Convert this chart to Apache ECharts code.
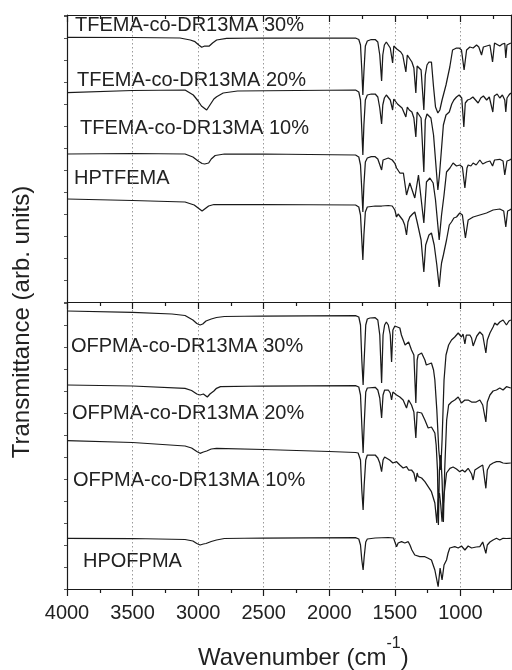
<!DOCTYPE html>
<html><head><meta charset="utf-8">
<script src="https://cdn.jsdelivr.net/npm/echarts@6/dist/echarts.min.js"></script>
<style>html,body{margin:0;padding:0;background:#fff;overflow:hidden}#c{width:540px;height:670px}</style>
</head><body><div id="c"></div>
<script>
// x tick labels (wavenumber, cm-1)
const xTicks = [4000, 3500, 3000, 2500, 2000, 1500, 1000];
const labelsTop = ['TFEMA-co-DR13MA 30%', 'TFEMA-co-DR13MA 20%', 'TFEMA-co-DR13MA 10%', 'HPTFEMA'];
const labelsBottom = ['OFPMA-co-DR13MA 30%', 'OFPMA-co-DR13MA 20%', 'OFPMA-co-DR13MA 10%', 'HPOFPMA'];

// [wavenumber, transmittance (arb. units, offset)]
const T30 = [[4000,264.7],[3500,264.5],[3139,264],[3060,262],[3024,260.3],[2995,257],[2973,254.7],[2950,256],[2935,257],[2915,256],[2890,259],[2859,262],[2783,263.7],[2500,264],[1800,264],[1775,262.5],[1762,257],[1752,232],[1744,207],[1736,230],[1725,256],[1710,261],[1680,262.5],[1650,262.5],[1630,260],[1615,247],[1601,221],[1592,247],[1580,257],[1565,260],[1550,259],[1535,254],[1517,239],[1508,256],[1495,258],[1485,253],[1470,252],[1455,250],[1440,247],[1416,230],[1405,247],[1390,246],[1370,240],[1355,234],[1340,209],[1330,236],[1315,238],[1300,232],[1279,192],[1268,227],[1255,237],[1240,240],[1221,240],[1205,215],[1190,195],[1172,189],[1157,192],[1140,202],[1110,217],[1081,235],[1060,252],[1045,251],[1030,254],[1010,254],[992,252],[972,232],[953,252],[928,255],[903,254],[877,257],[860,255],[839,247],[825,255],[800,256],[775,257],[755,240],[740,259],[725,258.7],[700,256],[680,258],[662,258.7],[654,244],[645,257],[630,258],[616,259]];
const T20 = [[4000,209.3],[3500,211.5],[3100,212],[3037,207],[3000,201],[2975,196],[2960,198],[2935,192],[2915,196],[2880,203],[2859,205.3],[2809,209],[2700,211],[1800,212],[1775,210],[1762,202],[1752,172],[1744,147],[1736,177],[1725,202],[1710,207],[1680,208],[1650,208],[1630,205],[1615,194],[1601,178],[1592,197],[1580,204],[1565,207],[1550,206],[1535,202],[1517,192],[1508,203],[1495,202],[1480,198],[1465,199],[1445,194],[1430,192],[1416,185],[1405,195],[1390,192],[1370,190],[1355,184],[1340,165],[1330,190],[1315,189],[1300,184],[1279,130],[1268,182],[1255,188],[1240,189],[1225,184],[1205,167],[1190,142],[1172,112],[1160,127],[1145,152],[1130,177],[1110,187],[1085,190],[1066,198],[1050,202],[1030,205],[1010,207],[990,204],[974,175],[963,199],[945,202],[925,203],[905,205],[885,202],[865,199],[845,204],[825,206],[800,202],[780,205],[765,203],[753,190],[742,206],[720,208],[700,204],[680,207],[662,202],[654,190],[645,204],[630,207],[616,209]];
const T10 = [[4000,148],[3500,148.5],[3100,148],[3040,145],[3000,141],[2970,138.5],[2950,138],[2935,136.3],[2920,139],[2900,143],[2870,146.5],[2800,148],[2500,148],[1800,147],[1775,145],[1762,137],[1752,112],[1744,90],[1736,117],[1725,140],[1710,144],[1680,145.3],[1650,145.3],[1630,143],[1601,132],[1590,142],[1575,144],[1550,144],[1520,142],[1500,138.7],[1487,134],[1462,129],[1435,129],[1411,107],[1386,119],[1348,104],[1320,127],[1279,79],[1259,120],[1233,124],[1208,119],[1190,102],[1162,62],[1144,87],[1125,107],[1106,130],[1080,134],[1056,139],[1030,136],[1005,137],[985,135],[966,114],[950,134],[941,137],[920,136],[903,139],[880,137],[852,142],[830,138],[801,140],[775,141],[755,136],[740,142],[700,142.7],[675,141],[662,127],[645,141],[624,142],[616,143]];
const HPT = [[4000,103],[3500,101.5],[3100,100],[3030,97],[2990,93],[2970,91],[2950,93],[2920,96],[2880,97.5],[2500,97.5],[1800,97],[1775,95],[1762,87],[1752,62],[1744,42],[1736,67],[1725,90],[1710,95],[1650,96],[1600,96],[1550,96.5],[1520,96],[1500,92],[1487,85],[1475,88],[1462,87],[1440,82],[1425,77],[1411,67],[1400,80],[1386,85],[1365,88],[1348,90],[1330,80],[1300,62],[1279,30],[1265,57],[1240,67],[1221,69],[1200,57],[1180,37],[1162,15],[1150,32],[1144,39],[1130,47],[1106,62],[1085,77],[1068,80],[1050,84],[1030,85],[1005,89],[985,87],[962,64],[941,82],[903,85],[852,87],[801,89],[751,92],[700,93],[670,91],[654,75],[640,91],[624,92],[616,93]];

const O30 = [[4000,278],[3500,276.7],[3200,275],[3100,273.5],[3040,269],[3010,265.5],[2985,264],[2965,265],[2940,268],[2900,270],[2860,271.5],[2800,272.5],[2500,273],[1800,273.3],[1775,272],[1762,264],[1752,229],[1742,204],[1734,229],[1722,264],[1710,270],[1690,271],[1650,271.3],[1630,269],[1615,254],[1601,206],[1590,254],[1578,264],[1565,267],[1550,264],[1535,254],[1525,227],[1515,259],[1500,263],[1487,262],[1462,261],[1450,254],[1437,256],[1422,244],[1411,246],[1395,247],[1373,239],[1355,234],[1340,186],[1330,229],[1322,234],[1296,236],[1271,229],[1260,224],[1246,224],[1221,226],[1205,219],[1195,209],[1180,179],[1165,139],[1150,119],[1140,149],[1125,209],[1110,234],[1090,244],[1068,249],[1055,251],[1043,252],[1030,254],[1017,256],[1005,254],[992,252],[980,255],[966,245],[955,254],[941,252],[928,254],[915,251],[903,243],[890,242],[875,253],[852,257],[830,254],[806,236],[795,249],[775,256],[751,262],[738,266],[720,264],[700,267],[675,269],[649,264],[630,268],[616,269]];
const O20 = [[4000,204],[3500,203],[3100,200.7],[3050,198.5],[3010,195],[2985,194],[2960,195],[2945,193],[2930,192],[2910,195],[2880,198],[2860,200.7],[2830,202.3],[2500,203],[1800,203.3],[1775,202],[1762,194],[1752,164],[1742,136],[1734,164],[1722,197],[1710,201],[1650,201.7],[1630,199],[1615,191],[1601,171],[1590,194],[1578,199],[1565,201],[1550,199],[1535,196],[1525,189],[1515,197],[1500,199],[1487,194],[1462,192],[1437,189],[1411,181],[1395,189],[1373,184],[1355,177],[1340,151],[1330,177],[1322,179],[1296,176],[1271,169],[1246,161],[1221,162],[1195,156],[1185,144],[1175,119],[1168,64],[1160,119],[1150,134],[1140,109],[1130,67],[1120,119],[1105,169],[1090,184],[1068,187],[1043,189],[1017,192],[992,186],[966,189],[941,189],[915,187],[903,189],[880,187],[852,189],[830,184],[806,167],[795,187],[775,194],[751,198],[725,199],[700,201],[675,199],[649,202.3],[616,201]];
const O10 = [[4000,148.3],[3500,146.5],[3100,143],[3050,141],[3010,137.5],[2985,135.7],[2960,137],[2935,138],[2900,140],[2860,140.7],[2500,139.5],[2000,137.5],[1800,136.5],[1780,136],[1762,129],[1752,99],[1742,79],[1734,104],[1722,129],[1710,134],[1650,134],[1630,131],[1615,126],[1601,117.3],[1590,129],[1578,132],[1565,132.3],[1540,129],[1515,126],[1500,125.7],[1487,127.3],[1462,124],[1437,121],[1411,122.3],[1395,119],[1373,119],[1355,116],[1340,107.3],[1330,116],[1322,112.3],[1296,111],[1271,107.3],[1246,102.3],[1221,97.3],[1195,86],[1180,66],[1170,89],[1160,96],[1150,84],[1140,67.3],[1125,94],[1106,116],[1080,120.7],[1056,122],[1030,120],[1005,117.3],[985,119],[966,117],[941,120.7],[915,115],[903,109],[890,119],[852,122.3],[830,124],[806,100.7],[795,119],[775,124],[751,126],[725,127.3],[700,127.3],[675,126],[649,125.7],[616,126]];
const HPO = [[4000,50.7],[3500,50.5],[3100,49.5],[3040,48],[3010,45.5],[2985,44],[2960,45],[2940,45.5],[2900,47.5],[2860,49],[2800,50.5],[2500,51],[1800,51.3],[1775,50],[1762,44],[1752,29],[1742,19],[1734,32],[1722,47],[1710,50],[1650,51],[1550,51.5],[1510,51],[1500,49],[1487,42.3],[1475,46],[1462,44],[1449,47.3],[1437,47.3],[1424,46],[1411,45.7],[1398,47.3],[1385,44],[1370,39],[1348,34],[1335,32.3],[1310,32.3],[1271,32.3],[1246,30.7],[1221,29],[1195,19],[1170,2.3],[1155,21],[1140,9],[1125,24],[1106,29],[1094,36],[1081,41],[1068,42],[1043,42.3],[1030,44],[1017,41],[1005,39],[992,43],[966,39],[941,43],[915,41],[903,39],[880,42],[852,42.3],[830,47],[806,35.7],[795,44],[775,47],[751,49],[725,50.7],[700,49],[675,50.7],[649,50.5],[616,50.7]];

const FONT = '"Liberation Sans", Arial, Helvetica, sans-serif';
const INK = '#1a1a1a';
const chart = echarts.init(document.getElementById('c'), null, {renderer: 'canvas'});

function xAx(grid, pos, opts) {
  return Object.assign({
    type: 'value', gridIndex: grid, position: pos, inverse: true,
    min: 500, max: 4000, interval: 500,
    axisLine: {show: true, onZero: false, lineStyle: {color: INK, width: 1.2}},
    axisTick: {show: true, inside: false, length: 7, lineStyle: {color: INK, width: 1.2}},
    minorTick: {show: true, splitNumber: 2, length: 4, lineStyle: {color: INK, width: 1.2}},
    axisLabel: {show: false},
    splitLine: {show: false}
  }, opts || {});
}
function yAx(grid, pos, opts) {
  return Object.assign({
    type: 'value', gridIndex: grid, position: pos, min: 0, max: 287, interval: 22,
    axisLine: {show: true, onZero: false, lineStyle: {color: INK, width: 1.2}},
    axisTick: {show: true, inside: false, length: 3, lineStyle: {color: '#555', width: 1}},
    axisLabel: {show: false}, splitLine: {show: false}
  }, opts || {});
}
const gridLine = {show: true, lineStyle: {color: '#9a9a9a', width: 1, type: [1.5, 2.5]}};

const seriesList = [[T30,0],[T20,0],[T10,0],[HPT,0],[O30,1],[O20,1],[O10,1],[HPO,1]].map(([d,g]) => ({
  type: 'line', xAxisIndex: g === 0 ? 0 : 2, yAxisIndex: g === 0 ? 0 : 2,
  data: d, showSymbol: false, symbol: 'none', smooth: false, clip: true,
  lineStyle: {color: INK, width: 1.25}, animation: false
}));

const texts = [];
const topPos = [[75,24],[77,79.5],[80,127.5],[74,177.5]];
labelsTop.forEach((t,i) => texts.push({type:'text', left: topPos[i][0], top: topPos[i][1]-9, style:{text:t, font:'20px '+FONT, fill:'#222'}}));
const botPos = [[71,345.5],[72,412.5],[73,479.5],[83,560.5]];
labelsBottom.forEach((t,i) => texts.push({type:'text', left: botPos[i][0], top: botPos[i][1]-9, style:{text:t, font:'20px '+FONT, fill:'#222'}}));
texts.push({type:'text', x: 22, y: 322, rotation: Math.PI/2, style:{text:'Transmittance (arb. units)', font:'24px '+FONT, fill:'#222', align:'center', verticalAlign:'middle'}});
texts.push({type:'text', left: 198, top: 636, style:{text:'{a|Wavenumber (cm}{s|-1}{a|)}', rich:{a:{font:'24px '+FONT, fill:'#222', verticalAlign:'bottom', lineHeight:34}, s:{font:'16px '+FONT, fill:'#222', verticalAlign:'top', lineHeight:34}}}});

chart.setOption({
  animation: false,
  backgroundColor: '#fff',
  grid: [
    {left: 67, top: 15, width: 459, height: 287, containLabel: false},
    {left: 67, top: 302, width: 459, height: 287, containLabel: false}
  ],
  xAxis: [
    xAx(0, 'bottom', {splitLine: gridLine}),
    xAx(0, 'top', {axisTick: {show: true, inside: true, length: 7, lineStyle: {color: INK, width: 1.2}}, minorTick: {show: true, splitNumber: 2, length: 4, lineStyle: {color: INK, width: 1.2}}}),
    xAx(1, 'bottom', {splitLine: gridLine, axisLabel: {show: true, margin: 14, color: '#222', fontSize: 20, fontFamily: FONT,
      formatter: v => xTicks.indexOf(v) >= 0 ? String(v) : ''}})
  ],
  yAxis: [
    yAx(0, 'left'), yAx(0, 'right', {offset: -15, axisTick: {show: false}}),
    yAx(1, 'left'), yAx(1, 'right', {offset: -15, axisTick: {show: false}})
  ],
  series: seriesList,
  graphic: texts
});
</script></body></html>
